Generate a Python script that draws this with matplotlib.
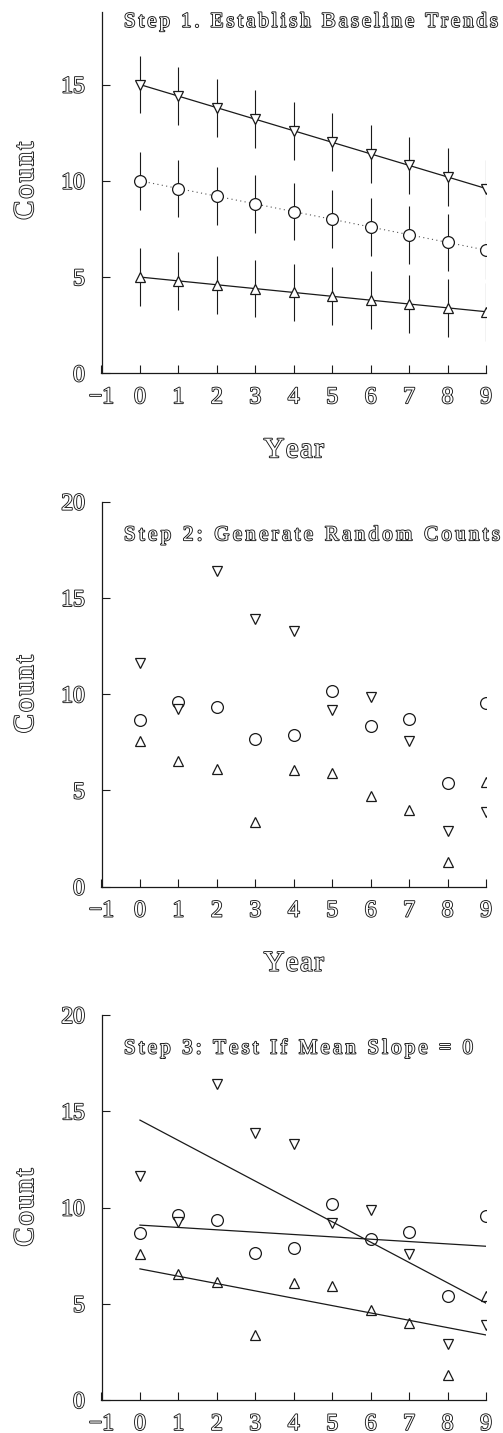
import matplotlib
matplotlib.use('Agg')
import matplotlib.pyplot as plt
import matplotlib.patheffects as pe
from matplotlib.font_manager import FontProperties, findfont, get_font
from matplotlib.transforms import IdentityTransform
import numpy as np

# data
years = np.arange(10)

# step 1: baseline trends, +/- error
base_low = [5.0, 4.8, 4.6, 4.4, 4.2, 4.0, 3.8, 3.6, 3.4, 3.2]
base_mid = [10.0, 9.6, 9.2, 8.8, 8.4, 8.0, 7.6, 7.2, 6.8, 6.4]
base_high = [15.0, 14.4, 13.8, 13.2, 12.6, 12.0, 11.4, 10.8, 10.2, 9.6]
base_err = [1.5, 1.5, 1.5, 1.5, 1.5, 1.5, 1.5, 1.5, 1.5, 1.5]

# step 2 / 3: random counts
count_low = [7.58, 6.53, 6.11, 3.38, 6.06, 5.90, 4.69, 3.98, 1.30, 5.42]
count_mid = [8.66, 9.61, 9.35, 7.65, 7.88, 10.18, 8.36, 8.71, 5.40, 9.56]
count_high = [11.64, 9.23, 16.40, 13.89, 13.28, 9.18, 9.87, 7.58, 2.89, 3.90]

titles = ['Step 1. Establish Baseline Trends',
          'Step 2: Generate Random Counts',
          'Step 3: Test If Mean Slope = 0']
xticks = list(range(-1, 10))
xticklabels = ['\u22121'] + [str(i) for i in range(10)]

W, H, DPI = 503, 1433, 100
SERIF = 'Liberation Serif'
INK = '#1a1a1a'
plt.rcParams['font.family'] = SERIF

OUTLINE = dict(color='white',
               path_effects=[pe.withStroke(linewidth=1.3, foreground=INK)])


def spaced_text(fig, x, y, s, size, width, center=False, rotation=0):
    # draws s one glyph at a time (pixel coords) so it spans `width` px
    font = get_font(findfont(FontProperties(family=SERIF)))
    font.set_size(size, DPI)
    adv = [font.load_char(ord(c)).linearHoriAdvance / 65536 for c in s]
    track = (width - sum(adv)) / (len(s) - 1)
    pos = -width / 2 if center else 0.0
    for c, a in zip(s, adv):
        if c != ' ':
            if rotation == 90:
                px, py = x, y + pos
            else:
                px, py = x + pos, y
            fig.text(px, py, c, transform=IdentityTransform(), fontsize=size,
                     family=SERIF, rotation=rotation, rotation_mode='anchor',
                     ha='left', va='baseline', **OUTLINE)
        pos += a + track


fig = plt.figure(figsize=(W / DPI, H / DPI), dpi=DPI)

x_left, x_right = 101.5, 486.0
# (top px, bottom px, y max) for each panel
panels = [(12.0, 373.3, 18.77), (501.7, 886.7, 20.0), (1015.0, 1400.0, 20.0)]
title_w = [374, 376, 349]

axes = []
for i, (top, bot, ymax) in enumerate(panels):
    ax = fig.add_axes([x_left / W, (H - bot) / H, (x_right - x_left) / W, (bot - top) / H])
    ax.set_xlim(-1, 9)
    ax.set_ylim(0, ymax)
    for side in ['top', 'right']:
        ax.spines[side].set_visible(False)
    for side in ['left', 'bottom']:
        ax.spines[side].set_linewidth(0.9)
        ax.spines[side].set_color(INK)
    ax.set_xticks(xticks)
    ax.set_xticklabels(xticklabels)
    ax.set_yticks([v for v in [0, 5, 10, 15, 20] if v <= ymax])
    ax.tick_params(axis='both', direction='in', length=5.5, width=0.8,
                   color=INK, labelsize=17)
    ax.tick_params(axis='x', pad=10)
    ax.tick_params(axis='y', pad=12)
    for lab in ax.get_xticklabels() + ax.get_yticklabels():
        lab.set_color('white')
        lab.set_path_effects([pe.withStroke(linewidth=1.3, foreground=INK)])
    ax.patch.set_alpha(0)
    axes.append(ax)

mk = dict(mfc='white', mec=INK, mew=0.9, color=INK, lw=0.9)

# panel 1
ax = axes[0]
ax.errorbar(years, base_high, yerr=base_err, fmt='none', ecolor=INK, elinewidth=0.8, capsize=0)
ax.errorbar(years, base_mid, yerr=base_err, fmt='none', ecolor=INK, elinewidth=0.8, capsize=0)
ax.errorbar(years, base_low, yerr=base_err, fmt='none', ecolor=INK, elinewidth=0.8, capsize=0)
ax.plot(years, base_high, marker='v', ms=7.5, **mk)
ax.plot(years, base_mid, marker='o', ms=8.5, mfc='white', mec=INK, mew=0.9,
        color='#555555', lw=0.8, linestyle=(0, (1, 3)))
ax.plot(years, base_low, marker='^', ms=7.5, **mk)

# panels 2 and 3
for ax in axes[1:]:
    ax.plot(years, count_mid, 'o', ms=8.5, mfc='white', mec=INK, mew=0.9)
    ax.plot(years, count_high, 'v', ms=7.5, mfc='white', mec=INK, mew=0.9)
    ax.plot(years, count_low, '^', ms=7.5, mfc='white', mec=INK, mew=0.9)

# panel 3: least squares fits
ax = axes[2]
for series in [count_high, count_mid, count_low]:
    slope, icpt = np.polyfit(years, series, 1)
    ax.plot(years[[0, -1]], icpt + slope * years[[0, -1]], color=INK, lw=0.9)

# titles and axis labels, letter-spaced
for i, ax in enumerate(axes):
    top, bot, ymax = panels[i]
    tx, ty = ax.transData.transform((0, 18.0))
    spaced_text(fig, 124, ty, titles[i], 15, title_w[i])
    cx, cy = ax.transData.transform((4, 10))
    spaced_text(fig, 33, cy, 'Count', 20.5, 78, center=True, rotation=90)
    if i < 2:
        spaced_text(fig, cx, H - (bot + 84), 'Year', 20.5, 60, center=True)

fig.savefig('out.png', dpi=DPI)
